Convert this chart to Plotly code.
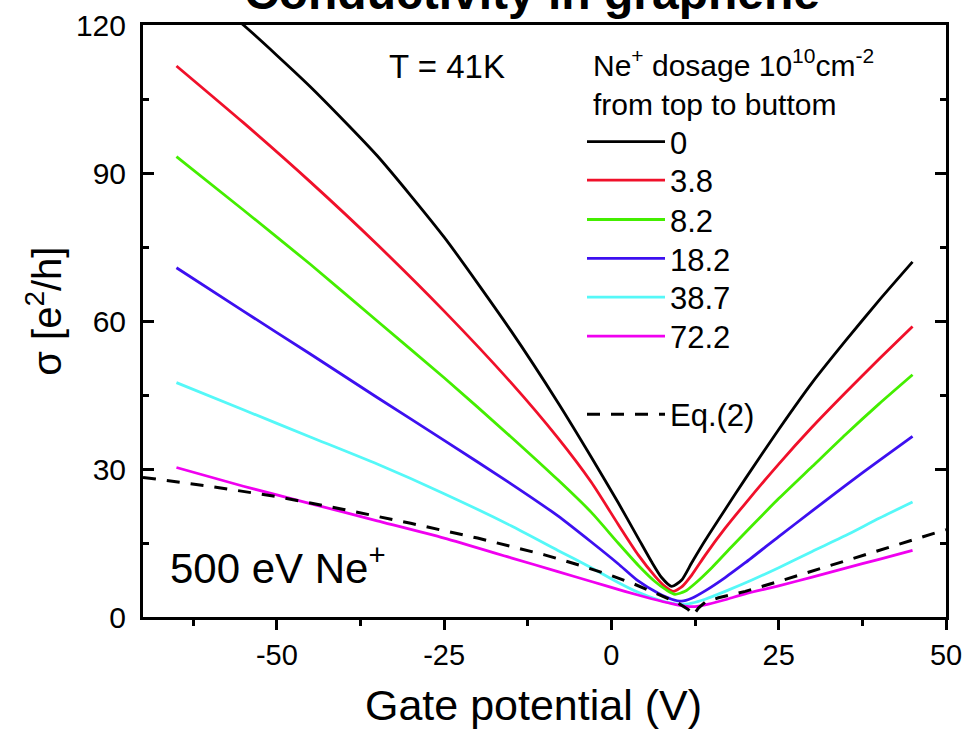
import plotly.graph_objects as go

FONT = "Liberation Sans, Arial, sans-serif"

# ---- data ----
labels = ["0", "3.8", "8.2", "18.2", "38.7", "72.2"]
colors = ["#000000", "#f0102a", "#44ee00", "#3d10f0", "#55f8f8", "#f000f0"]

v_black = [-65, -55, -45, -35, -25, -15, -8, -3, 1, 4, 6, 7.5, 9, 10.5, 12, 14, 17, 20, 25, 30, 35, 40, 45]
s_black = [131, 120, 107.5, 93.5, 77, 58, 43.5, 32.4, 23.2, 16, 11.2, 8, 6.2, 7.5, 11, 15.5, 21.8, 28, 38, 47.5, 56, 64.2, 72]

v_red = [-65, -55, -45, -35, -25, -15, -8, -3, 1, 4, 6.5, 8, 9.2, 10.5, 12, 14, 17, 20, 25, 30, 35, 40, 45]
s_red = [111.7, 100.2, 88.2, 75.5, 62, 47.5, 36.3, 27.3, 18.8, 12.6, 8.3, 6.2, 5.2, 6.1, 8.5, 12.5, 18, 23, 31, 38.5, 45.5, 52.3, 58.9]

v_green = [-65, -55, -45, -35, -25, -15, -8, -3, 1, 4, 6.5, 8.2, 9.5, 11, 12.5, 15, 18, 21, 25, 30, 35, 40, 45]
s_green = [93.3, 82.5, 71.5, 60, 48.5, 36.5, 27.8, 21.2, 15, 10.5, 7.2, 5.5, 4.6, 5.2, 6.8, 10, 14.3, 18.5, 24, 30.5, 37, 43.2, 49.1]

v_blue = [-65, -55, -45, -35, -25, -15, -8, -3, 1, 4, 7, 9, 10.5, 12, 14, 17, 20, 25, 30, 35, 40, 45]
s_blue = [70.8, 62, 53.3, 44.5, 35.8, 27, 20.5, 15.2, 10.8, 7.3, 4.8, 3.6, 3.2, 3.8, 5.3, 8, 11, 16.3, 21.5, 26.7, 31.7, 36.6]

v_cyan = [-65, -55, -45, -35, -25, -15, -8, -3, 1, 4, 7, 9, 10.5, 12, 14, 17, 21, 25, 30, 35, 40, 45]
s_cyan = [47.5, 42, 36.5, 31, 25, 18.5, 13.5, 10, 7, 5, 3.5, 2.8, 2.5, 2.8, 3.6, 5.2, 7.5, 10, 13.3, 16.5, 20, 23.3]

v_mag = [-65, -55, -45, -35, -25, -15, -8, -3, 2, 6, 9, 11, 12.5, 14.5, 17, 20, 25, 30, 35, 40, 45]
s_mag = [30.3, 26.5, 23, 19.5, 16, 12, 9.2, 7.2, 5.2, 3.7, 2.7, 2.2, 2.1, 2.6, 3.5, 4.7, 6.3, 8.1, 9.9, 11.7, 13.5]

v_eq = [-70, -60, -50, -40, -30, -20, -10, -5, 0, 3, 6, 8, 10, 11.5, 12.2, 13, 14, 16, 20, 25, 30, 35, 40, 45, 50]
s_eq = [28.3, 26.5, 24.4, 21.8, 19.0, 16.0, 12.6, 10.6, 8.4, 6.9, 5.2, 4.0, 2.8, 1.5, 0.3, 1.8, 3.0, 3.9, 5.2, 7.2, 9.3, 11.4, 13.5, 15.6, 17.7]

xs = [v_black, v_red, v_green, v_blue, v_cyan, v_mag]
ys = [s_black, s_red, s_green, s_blue, s_cyan, s_mag]

x_ticks = [-50, -25, 0, 25, 50]
y_ticks = [0, 30, 60, 90, 120]

# plot-area geometry in pixels (for placing text)
L, R, T, B = 143, 946, 25, 617.5
def px(x):
    return (x - L) / (R - L)
def py(y):
    return (B - y) / (B - T)

legend_rows = [142, 180.7, 220, 259, 297.7, 336.7, 415]
legend_names = ["legend"] + ["legend%d" % i for i in range(2, 8)]

fig = go.Figure()
for i, (xv, yv, lab, col) in enumerate(zip(xs, ys, labels, colors)):
    fig.add_trace(go.Scatter(x=xv, y=yv, mode="lines", name=lab,
                             line=dict(color=col, width=2.8, shape="spline", smoothing=0.6),
                             legend=legend_names[i]))
fig.add_trace(go.Scatter(x=v_eq, y=s_eq, mode="lines", name="Eq.(2)",
                         line=dict(color="black", width=3, dash="13px,11px"),
                         legend=legend_names[6]))

legend_layout = {}
for name, row in zip(legend_names, legend_rows):
    legend_layout[name] = dict(
        x=px(582), y=py(row), xanchor="left", yanchor="middle",
        bgcolor="rgba(0,0,0,0)", borderwidth=0,
        font=dict(family=FONT, size=31, color="black"),
        itemwidth=78,
    )

fig.update_layout(
    width=967, height=729,
    margin=dict(l=L, r=967 - R, t=T, b=729 - B, autoexpand=False),
    paper_bgcolor="white", plot_bgcolor="white",
    font=dict(family=FONT, color="black", size=29),
    showlegend=True,
    xaxis=dict(
        range=[-70, 50], tickvals=x_ticks, ticktext=[str(t) for t in x_ticks],
        ticks="outside", ticklen=10, tickwidth=2.5, tickcolor="black",
        minor=dict(dtick=12.5, tick0=0, ticks="outside", ticklen=6, tickwidth=2.5, tickcolor="black"),
        showline=True, linewidth=3, linecolor="black", mirror=True,
        showgrid=False, zeroline=False, automargin=False,
        tickfont=dict(family=FONT, size=29),
    ),
    xaxis2=dict(
        range=[-70, 50], overlaying="x", side="top", matches="x",
        tickvals=x_ticks, showticklabels=False,
        ticks="inside", ticklen=10, tickwidth=2.5, tickcolor="black",
        minor=dict(dtick=12.5, tick0=0, ticks="inside", ticklen=6, tickwidth=2.5, tickcolor="black"),
        showline=False, showgrid=False, zeroline=False, automargin=False,
    ),
    yaxis=dict(
        range=[0, 120], tickvals=y_ticks, ticktext=[str(t) for t in y_ticks],
        ticks="inside", ticklen=11, tickwidth=2.5, tickcolor="black",
        minor=dict(dtick=15, tick0=0, ticks="inside", ticklen=6, tickwidth=2.5, tickcolor="black"),
        showline=True, linewidth=3, linecolor="black", mirror="ticks",
        showgrid=False, zeroline=False, automargin=False,
        tickfont=dict(family=FONT, size=30), ticklabelstandoff=8,
    ),
    **legend_layout,
)

fig.add_annotation(text="<b>Conductivity in graphene</b>", xref="paper", yref="paper",
                   x=px(532), y=py(21), xanchor="center", yanchor="bottom", showarrow=False,
                   font=dict(family=FONT, size=48, color="black"))
fig.add_annotation(text="Gate potential (V)", xref="paper", yref="paper",
                   x=px(533), y=py(706), xanchor="center", yanchor="middle", showarrow=False,
                   font=dict(family=FONT, size=43, color="black"))
fig.add_annotation(text="σ [e<sup>2</sup>/h]", xref="paper", yref="paper", textangle=-90,
                   x=px(44), y=py(312), xanchor="center", yanchor="middle", showarrow=False,
                   font=dict(family=FONT, size=40, color="black"))
fig.add_annotation(text="T = 41K", xref="paper", yref="paper",
                   x=px(447), y=py(67), xanchor="center", yanchor="middle",
                   showarrow=False, font=dict(family=FONT, size=33, color="black"))
fig.add_annotation(text="Ne<sup>+</sup> dosage 10<sup>10</sup>cm<sup>-2</sup><br>from top to buttom",
                   xref="paper", yref="paper", align="left",
                   x=px(591), y=py(82.5), xanchor="left", yanchor="middle",
                   showarrow=False, font=dict(family=FONT, size=30, color="black"))
fig.add_annotation(text="500 eV Ne<sup>+</sup>", xref="paper", yref="paper",
                   x=px(168), y=py(565), xanchor="left", yanchor="middle",
                   showarrow=False, font=dict(family=FONT, size=42, color="black"))

fig.write_html("out.html")
